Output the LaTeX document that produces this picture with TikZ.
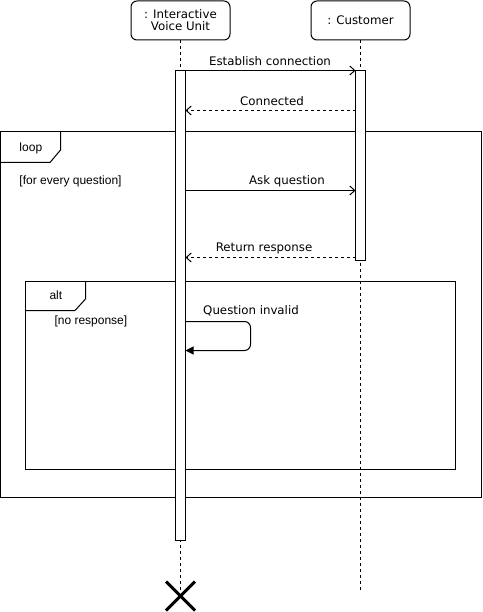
\documentclass[tikz,border=0pt]{standalone}
\usepackage{fontspec}
\setmainfont{DejaVu Sans}
\newfontfamily\framefont{Liberation Sans}
\usetikzlibrary{arrows.meta,calc}
\begin{document}
\begin{tikzpicture}[x=1pt,y=-1pt,line width=1pt,
  head/.style={draw,rounded corners=6pt,minimum width=99pt,minimum height=39pt,inner sep=0pt,align=center,font=\fontsize{11.8}{13}\selectfont},
  actbox/.style={draw,fill=white,minimum width=10pt,inner sep=0pt},
  life/.style={dash pattern=on 3pt off 3pt},
  msg/.style={-{Straight Barb[length=5pt,width=9pt]}},
  reply/.style={-{Straight Barb[length=5pt,width=9pt]},dash pattern=on 3pt off 3pt},
  mlabel/.style={font=\fontsize{11.8}{13}\selectfont,inner sep=0pt},
  flabel/.style={font=\framefont\fontsize{12}{13}\selectfont,inner sep=0pt,anchor=west},
  frameline/.style={draw,line width=1pt}]
\useasboundingbox (0,0) rectangle (482,612);

% headers
\node[head] (ivu) at (180.5,20.5) {: Interactive\\[-1pt]Voice Unit};
\node[head] (cust) at (360.5,20.5) {: Customer};

% lifeline ends
\coordinate (ivuend) at (180.5,590);
\coordinate (custend) at (360.5,590);

% frames
\draw[frameline] (0.5,131.5) rectangle (481.5,497.5);
\draw[frameline] (0.5,162.5) -- (50,162.5) -- (60.5,150) -- (60.5,131.5);
\node[flabel] (looplbl) at (19,148) {loop};
\node[flabel] (loopg) at (19,181) {[for every question]};

\draw[frameline] (25.5,281.5) rectangle (455.5,469.5);
\draw[frameline] (25.5,310.5) -- (75,310.5) -- (85.5,299) -- (85.5,281.5);
\node[flabel] (altlbl) at (49,295) {alt};
\node[flabel] (altg) at (54,321) {[no response]};

% lifelines
\draw[life] (ivu.south) -- (ivuend);
\draw[life] (cust.south) -- (custend);

% activations
\node[actbox,minimum height=470pt] (ivuact) at (180.5,305.5) {};
\node[actbox,minimum height=190pt] (custact) at (360.5,165.5) {};

% message coordinates
\coordinate (m1s) at (185.5,70.5);
\coordinate (m1e) at (355.5,70.5);
\coordinate (m2s) at (355.5,110.5);
\coordinate (m2e) at (185.5,110.5);
\coordinate (m3s) at (185.5,190.5);
\coordinate (m3e) at (355.5,190.5);
\coordinate (m4s) at (355.5,257.5);
\coordinate (m4e) at (185.5,257.5);
\coordinate (m5s) at (185.5,321.5);
\coordinate (m5e) at (185.5,350.5);

\draw[msg] (m1s) -- (m1e);
\node[mlabel] (l1) at (270,61) {Establish connection};
\draw[reply] (m2s) -- (m2e);
\node[mlabel] (l2) at (272,101) {Connected};
\draw[msg] (m3s) -- (m3e);
\node[mlabel] (l3) at (287,181) {Ask question};
\draw[reply] (m4s) -- (m4e);
\node[mlabel] (l4) at (264,248) {Return response};
\draw[-{Triangle[length=8pt,width=8pt]},rounded corners=6pt] (m5s) -- (250.5,321.5) -- (250.5,350.5) -- (m5e);
\node[mlabel] (l5) at (251,311) {Question invalid};

% destruction
\coordinate (xc) at (180.5,596);
\draw[line width=3pt] ($(xc)+(-14.5,-14.5)$) -- ($(xc)+(14.5,14.5)$);
\draw[line width=3pt] ($(xc)+(-14.5,14.5)$) -- ($(xc)+(14.5,-14.5)$);
\end{tikzpicture}
\end{document}
